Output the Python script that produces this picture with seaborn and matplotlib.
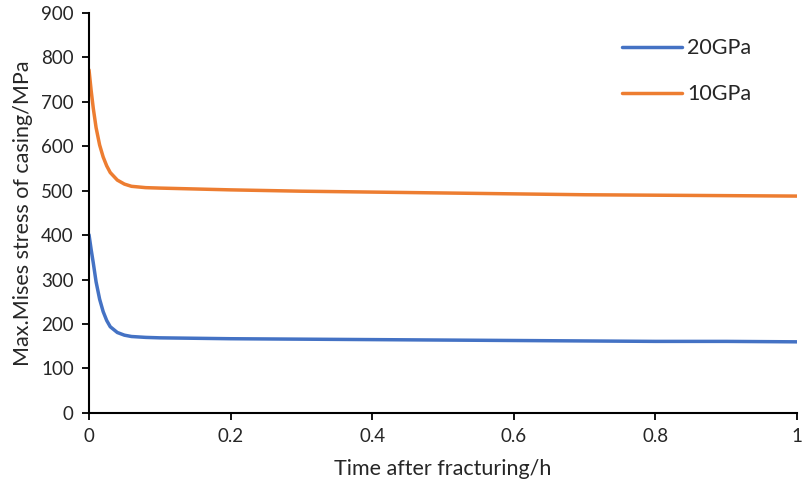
import pandas as pd
import matplotlib
matplotlib.use("Agg")
import matplotlib.pyplot as plt
import seaborn as sns

time_h = [0, 0.003, 0.006, 0.01, 0.015, 0.02, 0.025, 0.03, 0.04, 0.05, 0.06,
          0.08, 0.1, 0.15, 0.2, 0.3, 0.4, 0.5, 0.6, 0.7, 0.8, 0.9, 1.0]
stress_20gpa = [401, 368, 338, 295, 256, 228, 208, 194, 181, 175, 172,
                170, 169, 168, 167, 166, 165, 164, 163, 162, 161, 161, 160]
stress_10gpa = [772, 726, 686, 642, 603, 576, 556, 541, 524, 515, 510,
                507, 506, 504, 502, 499, 497, 495, 493, 491, 490, 489, 488]
series_names = ["20GPa", "10GPa"]
colors = ["#4472C4", "#ED7D31"]

df = pd.DataFrame({
    "t": time_h * 2,
    "s": stress_20gpa + stress_10gpa,
    "series": [series_names[0]] * len(time_h) + [series_names[1]] * len(time_h),
})

sns.set_style("ticks")
plt.rcParams["font.family"] = ["Lato", "DejaVu Sans"]

fig = plt.figure(figsize=(8.04, 4.91), dpi=100)
ax = fig.add_axes([0.1107, 0.159, 0.8806, 0.8145])

sns.lineplot(data=df, x="t", y="s", hue="series", palette=colors,
             linewidth=2.5, ax=ax)

ax.set_xlim(0, 1)
ax.set_ylim(0, 900)
ax.set_xticks([0, 0.2, 0.4, 0.6, 0.8, 1])
ax.set_xticklabels(["0", "0.2", "0.4", "0.6", "0.8", "1"])
ax.set_yticks(range(0, 901, 100))
ax.tick_params(axis="both", labelsize=13.5, length=5, width=1.3, color="black", pad=6)
for side in ["left", "bottom"]:
    ax.spines[side].set_linewidth(1.5)
    ax.spines[side].set_color("black")
sns.despine(ax=ax)

ax.set_xlabel("Time after fracturing/h", fontsize=15.5, labelpad=10)
ax.set_ylabel("Max.Mises stress of casing/MPa", fontsize=15.5, labelpad=6)

leg = ax.legend(loc="upper left", bbox_to_anchor=(0.725, 0.985), frameon=False,
                fontsize=15.5, handlelength=2.8, labelspacing=1.2, handletextpad=0.25)
for line in leg.get_lines():
    line.set_linewidth(2.5)

fig.savefig("out.png", dpi=100)
